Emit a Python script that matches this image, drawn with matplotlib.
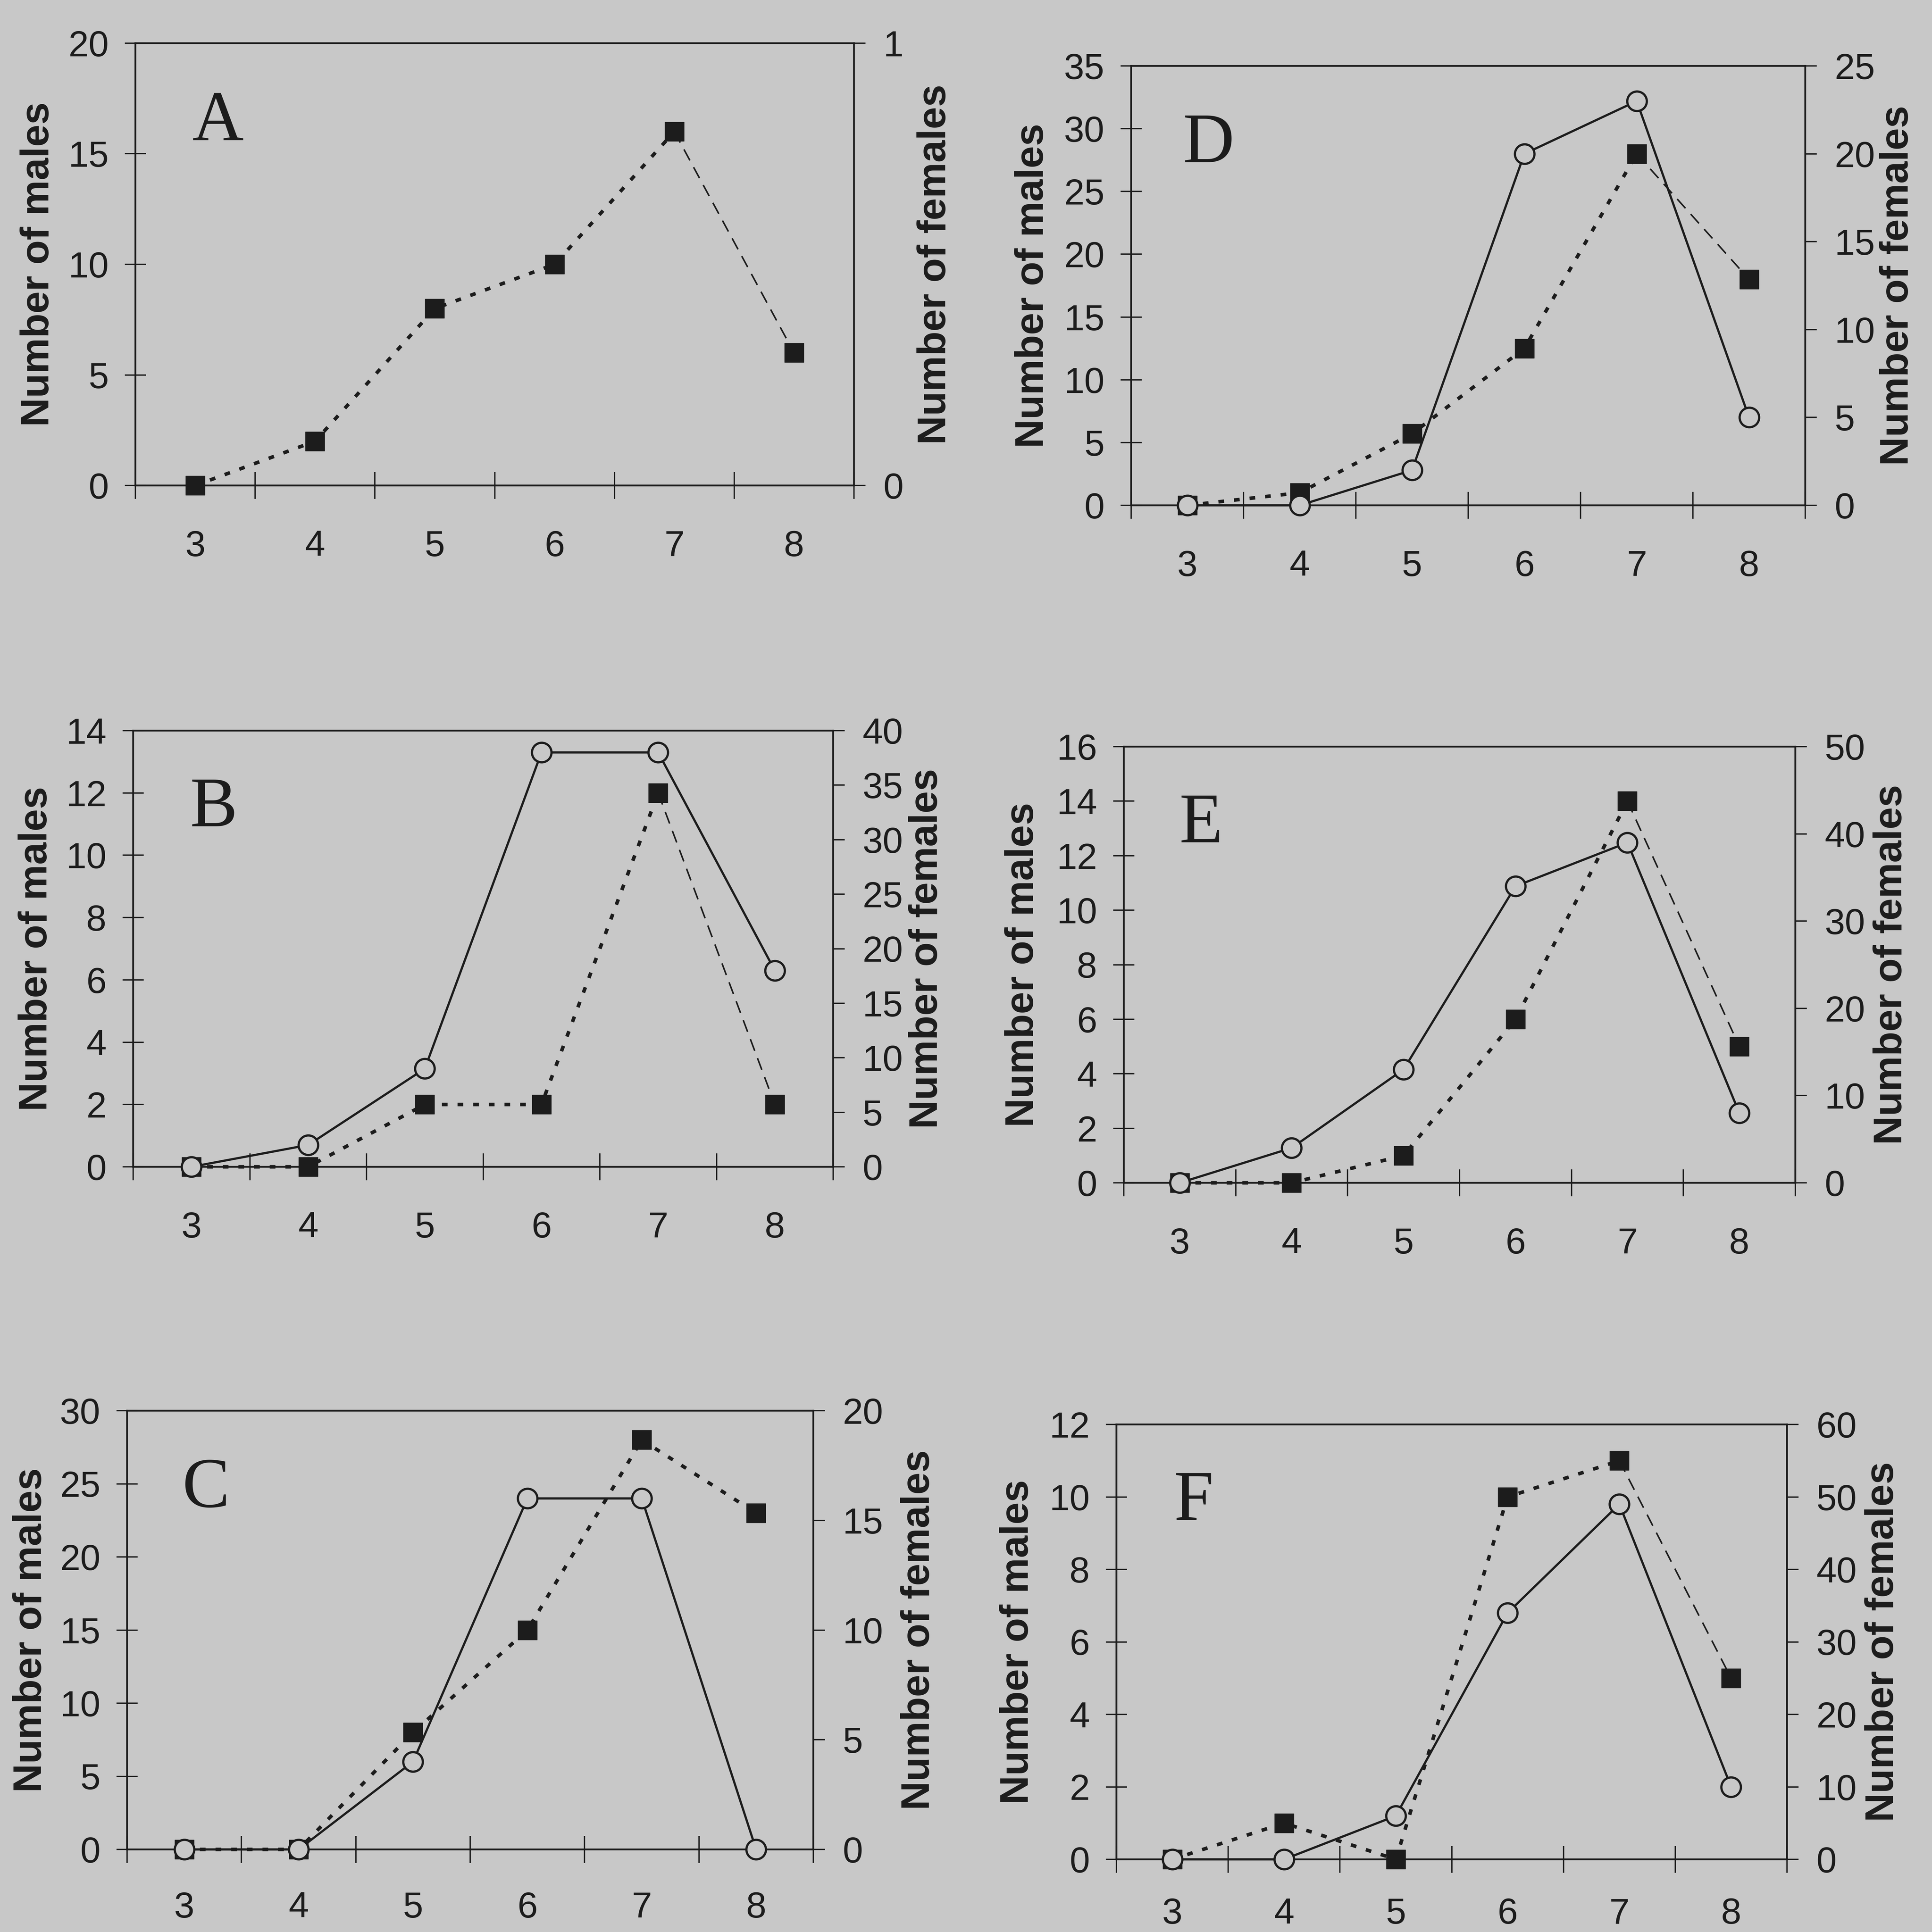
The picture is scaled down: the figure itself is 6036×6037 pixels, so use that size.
"""Six-panel figure: number of males (filled squares, left axis) and
females (open circles, right axis) against length class 3..8."""

import matplotlib
matplotlib.use("Agg")
import matplotlib.pyplot as plt

BG = "#c8c8c8"
INK = "#1c1c1c"
W, H = 6036, 6037

# ---- data ----
length_class = [3, 4, 5, 6, 7, 8]

males_a = [0, 2, 8, 10, 16, 6]
females_a = []
males_b = [0, 0, 2, 2, 12, 2]
females_b = [0, 2, 9, 38, 38, 18]
males_c = [0, 0, 8, 15, 28, 23]
females_c = [0, 0, 4, 16, 16, 0]
males_d = [0, 1, 5.7, 12.5, 28, 18]
females_d = [0, 0, 2, 20, 23, 5]
males_e = [0, 0, 1, 6, 14, 5]
females_e = [0, 4, 13, 34, 39, 8]
males_f = [0, 1, 0, 10, 11, 5]
females_f = [0, 0, 6, 34, 49, 10]

# axis ranges (max, step) for the male (left) and female (right) axes
male_axis = {"A": (20, 5), "B": (14, 2), "C": (30, 5),
             "D": (35, 5), "E": (16, 2), "F": (12, 2)}
female_axis = {"A": (1, 1), "B": (40, 5), "C": (20, 5),
               "D": (25, 5), "E": (50, 10), "F": (60, 10)}

# ---- layout (pixel boxes: left, right, top, bottom) ----
BOXES = {
    "A": (423, 2668, 135, 1517),
    "D": (3534, 5640, 206, 1579),
    "B": (416, 2603, 2283, 3646),
    "E": (3511, 5609, 2333, 3696),
    "C": (397, 2541, 4408, 5779),
    "F": (3488, 5583, 4451, 5810),
}
# label offsets in axes fraction (left label x, right label x)
LABEL_X = {
    "A": (-0.135, 1.113), "B": (-0.138, 1.134), "C": (-0.140, 1.154),
    "D": (-0.146, 1.137), "E": (-0.150, 1.143), "F": (-0.147, 1.143),
}
# distance (pt) from the x axis to the class labels
XLABEL_PAD = {"A": 100, "B": 100, "C": 94, "D": 100, "E": 100, "F": 86}

TICK_FS = 82
LABEL_FS = 90
LETTER_FS = 160


def draw_panel(fig, key, males, females, tail_dotted=False):
    l, r, t, b = BOXES[key]
    ax = fig.add_axes([l / W, 1 - b / H, (r - l) / W, (b - t) / H])
    ax.set_facecolor(BG)
    ax2 = ax.twinx()
    ax2.patch.set_visible(False)

    ymax, ystep = male_axis[key]
    y2max, y2step = female_axis[key]

    # males: thick dotted up to class 7, thin dashed to class 8
    ax.plot(length_class[:5], males[:5], color=INK, lw=8,
            dashes=(1.6, 2.8), clip_on=False, zorder=3)
    if tail_dotted:
        ax.plot(length_class[4:], males[4:], color=INK, lw=8,
                dashes=(1.6, 2.8), clip_on=False, zorder=3)
    else:
        ax.plot(length_class[4:], males[4:], color=INK, lw=3.5,
                dashes=(8, 5), clip_on=False, zorder=3)
    ax.plot(length_class, males, ls="none", marker="s", ms=43,
            mfc=INK, mec=INK, clip_on=False, zorder=4)

    # females: solid line with open circles
    if females:
        ax2.plot(length_class, females, color=INK, lw=5, marker="o",
                 ms=44, mfc=BG, mec=INK, mew=5, clip_on=False, zorder=5)

    ax.set_xlim(2.5, 8.5)
    ax.set_ylim(0, ymax)
    ax2.set_ylim(0, y2max)

    ax.set_xticks([2.5 + i for i in range(7)])
    ax.set_xticklabels([])
    ax.set_xticks(length_class, [str(v) for v in length_class], minor=True)
    ax.set_yticks(range(0, ymax + 1, ystep))
    ax2.set_yticks(range(0, y2max + 1, y2step))

    ax.tick_params(axis="x", which="major", direction="inout", length=61,
                   width=3, color=INK)
    ax.tick_params(axis="x", which="minor", length=0, pad=XLABEL_PAD[key],
                   labelsize=TICK_FS, labelcolor=INK)
    ax.tick_params(axis="y", direction="inout", length=48, width=3,
                   pad=36, labelsize=TICK_FS, color=INK, labelcolor=INK)
    ax2.tick_params(axis="y", direction="out", length=26, width=3,
                    pad=40, labelsize=TICK_FS, color=INK, labelcolor=INK)

    for side in ("top", "left", "bottom"):
        ax.spines[side].set_linewidth(4)
        ax.spines[side].set_color(INK)
    ax.spines["right"].set_visible(False)
    for side in ("top", "left", "bottom"):
        ax2.spines[side].set_visible(False)
    ax2.spines["right"].set_linewidth(4)
    ax2.spines["right"].set_color(INK)

    lx, rx = LABEL_X[key]
    ax.text(lx, 0.5, "Number of males", transform=ax.transAxes,
            rotation=90, ha="center", va="center", fontsize=LABEL_FS,
            fontweight="bold", color=INK)
    ax.text(rx, 0.5, "Number of females", transform=ax.transAxes,
            rotation=90, ha="center", va="center", fontsize=LABEL_FS,
            fontweight="bold", color=INK)
    ax.text(0.115, 0.82, key, transform=ax.transAxes, ha="center",
            va="center", fontsize=LETTER_FS, color=INK,
            family=["Liberation Serif", "DejaVu Serif"])
    return ax, ax2


def main():
    plt.rcParams["font.family"] = ["Liberation Sans", "DejaVu Sans"]
    fig = plt.figure(figsize=(W / 100, H / 100), dpi=100, facecolor=BG)

    draw_panel(fig, "A", males_a, females_a)
    draw_panel(fig, "B", males_b, females_b)
    draw_panel(fig, "C", males_c, females_c, tail_dotted=True)
    draw_panel(fig, "D", males_d, females_d)
    draw_panel(fig, "E", males_e, females_e)
    draw_panel(fig, "F", males_f, females_f)

    fig.savefig("out.png", dpi=100, facecolor=BG)


if __name__ == "__main__":
    main()
